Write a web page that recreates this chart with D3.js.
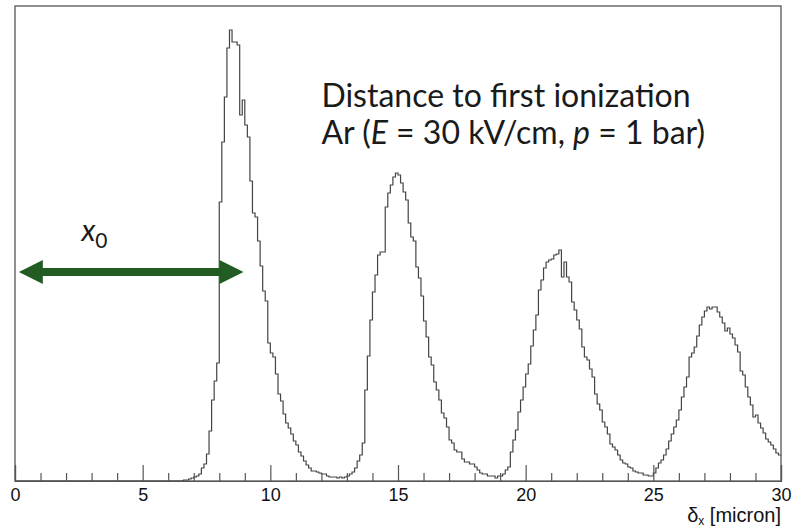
<!DOCTYPE html>
<html>
<head>
<meta charset="utf-8">
<script src="https://cdn.jsdelivr.net/npm/d3@7"></script>
<style>
  body { margin: 0; background: #fff; }
  .tick text { font-family: "Liberation Sans", Arial, sans-serif; }
</style>
</head>
<body>
<svg id="chart" width="794" height="528"></svg>
<script>
// histogram of distance to first ionization, 300 bins of 0.1 micron
const binWidth = 0.1;
const xMax = 30;
const majorTicks = [0, 5, 10, 15, 20, 25, 30];
const counts = [
  // 0.0 - 6.5
  0,0,0,0,0,0,0,0,0,0, 0,0,0,0,0,0,0,0,0,0, 0,0,0,0,0,0,0,0,0,0,
  0,0,0,0,0,0,0,0,0,0, 0,0,0,0,0,0,0,0,0,0, 0,0,0,0,0,0,0,0,0,0,
  0,0,0,0,0,0,
  // 6.6 - 9.9
  1,1,2,3,4,5,7,13,17,27,50,81,100,118,279,339,384,433,451,439,
  439,436,366,381,356,344,300,268,264,240,215,190,180,138,
  // 10.0 - 13.3
  128,124,107,87,80,67,58,53,47,40,36,29,25,20,16,13,10,10,9,8,
  7,7,5,4,4,4,3,4,3,4,5,7,9,13,
  // 13.4 - 17.9
  20,26,38,91,125,161,189,206,226,229,229,274,288,296,304,308,306,298,289,281,
  258,244,240,214,203,185,160,144,124,116,99,91,81,68,63,54,41,38,31,29,
  29,22,19,19,17,17,
  // 18.0 - 23.9
  14,11,8,7,7,5,5,5,3,5,5,7,11,14,29,41,51,69,81,94,
  107,117,135,151,166,191,201,213,219,221,222,226,227,231,204,219,204,199,179,171,
  161,152,134,124,121,112,104,87,77,71,59,54,47,37,34,31,26,21,18,17,
  // 24.0 - 29.9
  14,13,10,9,8,8,6,6,5,5,8,13,18,21,26,32,40,47,54,61,
  71,84,94,104,124,128,134,145,156,164,170,174,172,174,174,169,164,158,150,153,
  147,143,136,129,110,106,94,84,76,64,66,58,53,48,42,39,36,32,28,26
];
const yMax = 475;

const annotLines = ["Distance to first ionization"];
const axisTitle = "δ";

const margin = { top: 6, right: 13, bottom: 47, left: 15 };
const width = 794, height = 528;
const innerWidth = width - margin.left - margin.right;
const innerHeight = height - margin.top - margin.bottom;

const svg = d3.select("#chart");
const g = svg.append("g").attr("transform", `translate(${margin.left},${margin.top})`);

const xScale = d3.scaleLinear().domain([0, xMax]).range([0, innerWidth]);
const yScale = d3.scaleLinear().domain([0, yMax]).range([innerHeight, 0]);

// frame
g.append("rect")
  .attr("width", innerWidth)
  .attr("height", innerHeight)
  .attr("fill", "none")
  .attr("stroke", "#555")
  .attr("stroke-width", 1.3);

// histogram as step line
const steps = counts.map((c, i) => [i * binWidth, c]);
steps.push([xMax, counts[counts.length - 1]]);
const stepLine = d3.line()
  .x((d) => xScale(d[0]))
  .y((d) => yScale(d[1]))
  .curve(d3.curveStepAfter);

g.append("path")
  .attr("d", stepLine(steps))
  .attr("fill", "none")
  .attr("stroke", "#444")
  .attr("stroke-width", 1.2);

// axes: major ticks with labels, minor ticks pointing up
const minorTicks = d3.range(0, xMax + 1, 1).filter((v) => v % 5 !== 0);
const bottomAxis = d3.axisBottom(xScale)
  .tickValues(majorTicks)
  .tickSize(-16)
  .tickPadding(7)
  .tickFormat(d3.format("d"));
const minorAxis = d3.axisBottom(xScale)
  .tickValues(minorTicks)
  .tickSize(-8)
  .tickFormat("");

const axisG = g.append("g").attr("class", "axis-x")
  .attr("transform", `translate(0,${innerHeight})`)
  .call(bottomAxis);
axisG.selectAll("text").style("font-size", "18px").attr("fill", "#111");
axisG.selectAll("line, path").attr("stroke", "#555").attr("stroke-width", 1.2);

const minorG = g.append("g").attr("class", "axis-minor")
  .attr("transform", `translate(0,${innerHeight})`)
  .call(minorAxis);
minorG.select(".domain").remove();
minorG.selectAll("line").attr("stroke", "#555").attr("stroke-width", 1.2);

// axis title
const title = svg.append("text")
  .attr("x", margin.left + innerWidth)
  .attr("y", 522)
  .attr("text-anchor", "end")
  .attr("font-family", "Liberation Sans, Arial, sans-serif")
  .attr("font-size", 20)
  .attr("fill", "#111");
title.append("tspan").text(axisTitle);
title.append("tspan").attr("font-size", 12).attr("dy", 3).text("x");
title.append("tspan").attr("dy", -3).text(" [micron]");

// annotation text
const note = g.append("text")
  .attr("x", xScale(12))
  .attr("font-family", "Lato, sans-serif")
  .attr("font-size", 32)
  .attr("fill", "#1a1a1a");
note.append("tspan").attr("x", xScale(12)).attr("y", 101).text(annotLines[0]);
const l2 = note.append("tspan").attr("x", xScale(12)).attr("y", 138);
l2.append("tspan").text("Ar (");
l2.append("tspan").attr("font-style", "italic").text("E");
l2.append("tspan").text(" = 30 kV/cm, ");
l2.append("tspan").attr("font-style", "italic").text("p");
l2.append("tspan").text(" = 1 bar)");

// x0 arrow
const arrowY = 266;
const x1 = xScale(0.15), x2 = xScale(8.95);
const head = 24, shaft = 4, wing = 12;
const arrowPath = d3.path();
arrowPath.moveTo(x1, arrowY);
arrowPath.lineTo(x1 + head, arrowY - wing);
arrowPath.lineTo(x1 + head, arrowY - shaft);
arrowPath.lineTo(x2 - head, arrowY - shaft);
arrowPath.lineTo(x2 - head, arrowY - wing);
arrowPath.lineTo(x2, arrowY);
arrowPath.lineTo(x2 - head, arrowY + wing);
arrowPath.lineTo(x2 - head, arrowY + shaft);
arrowPath.lineTo(x1 + head, arrowY + shaft);
arrowPath.lineTo(x1 + head, arrowY + wing);
arrowPath.closePath();
g.append("path").attr("d", arrowPath.toString()).attr("fill", "#225c22");

const x0Label = g.append("text")
  .attr("x", xScale(2.6))
  .attr("y", 235)
  .attr("font-family", "Lato, sans-serif")
  .attr("fill", "#1a1a1a");
x0Label.append("tspan").attr("font-style", "italic").attr("font-size", 30).text("x");
x0Label.append("tspan").attr("font-size", 21).attr("dy", 7).text("0");
</script>
</body>
</html>
